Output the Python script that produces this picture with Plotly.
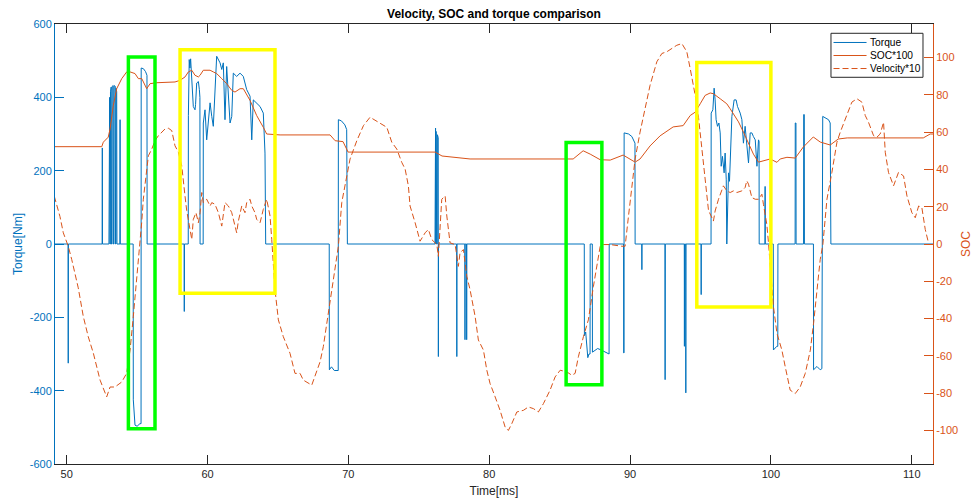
import plotly.graph_objects as go

# ---------------- data ----------------
series_names = ["Torque", "SOC*100", "Velocity*10"]

torque_t = [49.17, 50.10, 50.11, 50.12, 52.52, 52.53, 52.54,
            53.00, 53.01, 53.05, 53.07, 53.10, 53.11, 53.16, 53.18, 53.22, 53.23, 53.30, 53.32,
            53.36, 53.37, 53.45, 53.47, 53.50, 53.51, 53.55, 53.57, 53.78, 53.79, 53.80,
            54.72, 54.73, 54.85, 55.00, 55.20, 55.28, 55.29, 55.45, 55.60, 55.70, 55.71,
            58.34, 58.35, 58.36,
            58.63, 58.64, 58.70, 58.75, 58.80, 58.85, 58.92, 58.99, 59.11, 59.15, 59.23, 59.35,
            59.42, 59.46, 59.47, 59.69, 59.70, 59.82, 59.94, 60.06, 60.18, 60.30, 60.41, 60.65,
            60.89, 61.01, 61.12, 61.24, 61.36, 61.60, 61.72, 61.83, 62.07, 62.31, 62.54, 62.78,
            63.02, 63.14, 63.25, 63.73, 63.96, 64.08, 64.13,
            68.64, 68.65, 68.80, 69.00, 69.28, 69.29, 69.50, 69.75, 69.88, 69.93,
            76.15, 76.16, 76.19, 76.20, 76.22, 76.23, 76.26, 76.27, 76.31, 76.32, 76.38, 76.39, 76.40,
            77.69, 77.70, 77.71, 78.27, 78.28, 78.29, 78.39, 78.40, 78.41,
            86.75, 86.76, 86.85, 86.90, 87.00, 87.08, 87.16, 87.17, 87.32, 87.33, 87.50, 87.70,
            88.00, 88.30, 88.51, 88.52,
            89.54, 89.55, 89.57, 89.58, 89.90, 90.13, 90.24, 90.35, 90.36,
            90.83, 90.84, 90.85, 92.48, 92.49, 92.50, 93.85, 93.86, 93.87, 93.95, 93.96, 93.97,
            95.04, 95.05, 95.06,
            95.75, 95.76, 95.88, 95.97, 96.04, 96.11, 96.21, 96.31, 96.40, 96.47, 96.56, 96.68,
            96.75, 96.83, 96.87, 96.92, 96.99, 97.06, 97.11, 97.23, 97.39, 97.53, 97.63, 97.82,
            97.94, 98.05, 98.17, 98.30, 98.41, 98.53, 98.65, 98.76, 98.89, 99.01, 99.12, 99.16, 99.17,
            99.58, 99.59, 99.60, 100.17, 100.18, 100.42, 100.49, 100.50,
            101.72, 101.73, 101.78, 101.79, 102.32, 102.33, 102.37, 102.38,
            103.02, 103.03, 103.27, 103.50, 103.62, 103.68, 104.09, 104.21, 104.26, 111.51]
torque_v = [0, 0, -325, 0, 0, 262, 0,
            0, 360, 400, 0, 0, 415, 428, 0, 0, 430, 432, 0,
            0, 432, 430, 0, 0, 425, 415, 0, 0, 339, 0,
            0, -425, -494, -497, -490, -490, 480, 478, 470, 460, 0,
            0, -184, 0,
            0, 350, 503, 480, 505, 470, 420, 375, 366, 380, 439, 443,
            421, 400, 0, 0, 330, 366, 284, 330, 385, 348, 321, 512,
            494, 476, 494, 339, 484, 330, 348, 466, 457, 466, 457, 421,
            403, 284, 393, 375, 357, 248, 0,
            0, -343, -335, -345, -345, 339, 336, 325, 312, 0,
            0, 316, 316, 0, 0, 307, 303, 0, 0, 298, 290, -307, 0,
            0, -307, 0, 0, -261, 0, 0, -261, 0,
            0, -250, -240, -260, -310, -300, -300, 0, 0, -295, -290, -285,
            -290, -295, -300, 0,
            0, -297, -297, 303, 300, 293, 284, 275, 0,
            0, -70, 0, 0, -370, 0, 0, -279, 0, 0, -406, 0,
            0, -138, 0,
            0, 357, 366, 425, 393, 339, 321, 330, 303, 212, 239, 194,
            248, 175, 0, 121, 194, 171, 239, 348, 393, 393, 375, 357,
            339, 275, 321, 266, 221, 303, 303, 293, 284, 212, 284, 280, 0,
            0, 157, 0, 0, -289, -279, -279, 0,
            0, 330, 330, 0, 0, 353, 353, 0,
            0, -343, -334, -343, -340, 348, 339, 330, 0, 0]

soc_t = [49.17, 52.49, 52.60, 52.95, 53.08, 53.31, 53.55, 53.91, 54.26, 54.50, 54.85, 55.09,
         55.33, 55.56, 55.68, 55.92, 56.39, 57.69, 58.05, 58.40, 58.64, 58.88, 59.11, 59.35,
         59.47, 59.70, 60.18, 60.41, 60.65, 61.01, 61.36, 61.72, 61.95, 62.31, 62.54, 63.02,
         63.49, 63.96, 64.20, 65.15, 68.70, 69.06, 69.62, 69.98, 76.16, 76.65, 78.43, 78.64,
         85.96, 86.67, 87.17, 87.88, 88.59, 89.51, 90.36, 90.71, 91.42, 92.13, 93.06, 93.77,
         94.27, 94.62, 94.98, 95.33, 95.69, 95.92, 96.40, 96.87, 97.11, 97.34, 97.70, 98.05,
         98.41, 98.76, 99.12, 99.47, 99.95, 100.43, 100.66, 101.14, 101.73, 102.30, 103.01,
         103.50, 104.21, 104.78, 105.42, 110.82, 111.31, 111.51]
soc_v = [52.2, 52.2, 54.6, 57.3, 61.7, 74.3, 83.3, 88.7, 92.3, 92.3, 91.4, 88.7,
         88.7, 85.1, 83.3, 86.0, 86.5, 86.9, 87.8, 89.6, 92.3, 93.2, 90.5, 89.6,
         90.5, 93.2, 93.2, 92.3, 91.4, 88.7, 86.0, 82.4, 81.5, 83.3, 83.3, 77.0,
         68.9, 62.6, 59.0, 58.5, 58.5, 55.4, 54.9, 49.3, 49.3, 47.2, 46.1, 45.6,
         45.6, 50.0, 48.2, 45.2, 45.0, 47.7, 43.9, 45.6, 52.6, 58.0, 62.8, 63.5,
         68.9, 70.7, 75.2, 79.7, 81.0, 80.6, 77.9, 75.2, 72.5, 70.0, 65.5, 60.0,
         53.5, 48.2, 43.9, 44.6, 45.6, 43.8, 45.6, 46.5, 46.1, 52.0, 57.4,
         54.7, 53.1, 56.3, 56.9, 56.9, 59.0, 59.0]

vel_t = [49.12, 49.52, 49.76, 50.00, 50.11, 50.36, 50.82, 51.18, 51.53, 51.89, 52.37, 52.84,
         53.08, 53.43, 53.91, 54.26, 54.50, 54.73, 54.97, 55.21, 55.28, 55.33, 55.44, 55.56,
         55.68, 55.80, 56.04, 56.15, 56.27, 56.51, 56.75, 56.98, 57.22, 57.46, 57.69, 57.93,
         58.17, 58.28, 58.40, 58.52, 58.76, 58.88, 58.99, 59.18, 59.35, 59.47, 59.59, 59.70,
         59.94, 60.18, 60.30, 60.53, 60.77, 60.89, 61.01, 61.24, 61.48, 61.72, 61.83, 62.07,
         62.19, 62.43, 62.66, 62.78, 63.02, 63.14, 63.37, 63.49, 63.73, 63.96, 64.20, 64.44,
         64.56, 64.67, 64.79, 65.03, 65.38, 65.86, 66.21, 66.57, 66.80, 67.40, 67.76, 67.99,
         68.22, 68.47, 68.82, 69.06, 69.29, 69.53, 69.89, 70.12, 70.60, 71.07, 71.54, 72.13,
         72.73, 73.08, 73.44, 73.79, 74.03, 74.26, 74.38, 74.74, 75.09, 75.45, 75.68, 75.92,
         76.28, 76.39, 76.63, 76.87, 76.99, 77.22, 77.58, 77.81, 77.93, 78.17, 78.41, 78.64,
         79.00, 79.23, 79.47, 79.59, 79.83, 80.06, 80.42, 80.77, 81.13, 81.36, 81.60, 81.96,
         82.43, 82.78, 83.14, 83.49, 83.85, 84.32, 84.68, 85.04, 85.51, 85.87, 86.10, 86.33,
         86.69, 87.04, 87.40, 87.64, 87.88, 88.11, 88.59, 89.42, 89.65, 89.89, 90.13, 90.36,
         90.71, 91.07, 91.42, 91.90, 92.26, 92.61, 92.97, 93.32, 93.68, 94.03, 94.27, 94.62,
         94.86, 95.10, 95.33, 95.57, 95.92, 96.04, 96.28, 96.52, 96.63, 96.87, 97.11, 97.34,
         97.58, 97.94, 98.17, 98.29, 98.41, 98.65, 98.89, 99.12, 99.36, 99.47, 99.59, 99.71,
         99.83, 99.95, 100.18, 100.43, 100.78, 101.02, 101.37, 101.73, 102.08, 102.44, 102.80,
         103.03, 103.27, 103.50, 103.69, 103.98, 104.33, 104.69, 104.92, 105.28, 105.75, 106.11,
         106.46, 106.70, 106.93, 107.29, 107.53, 107.76, 108.00, 108.12, 108.35, 108.71, 109.06,
         109.42, 109.66, 110.01, 110.25, 110.49, 110.72, 110.96, 111.19]
vel_v = [25.6, 14.8, 6.0, 0.8, -1.2, -8.4, -23.5, -38.9, -49.7, -58.5, -73.0, -82.0,
         -76.7, -76.7, -74.0, -69.3, -56.9, -38.9, -19.1, -1.2, 5.0, 12.0, 24.0, 32.0,
         40.0, 47.3, 50.9, 53.6, 55.4, 58.1, 59.9, 61.7, 62.1, 60.8, 52.7, 49.2,
         41.9, 33.0, 25.8, 18.0, 7.8, 2.4, 13.2, 16.8, 11.4, 16.8, 27.6, 22.2,
         24.0, 20.4, 22.2, 21.3, 16.8, 13.2, 9.6, 22.2, 20.4, 16.8, 13.2, 6.0,
         12.3, 20.4, 16.8, 22.2, 24.0, 20.4, 16.8, 13.2, 11.4, 18.6, 24.0, 15.0,
         2.4, -8.4, -24.5, -40.7, -49.7, -58.7, -69.4, -69.4, -73.0, -75.7, -67.7, -63.2,
         -55.1, -42.5, -24.5, -12.0, -1.2, 22.2, 36.5, 45.6, 55.4, 63.5, 68.0, 65.3,
         62.6, 54.6, 50.9, 43.8, 40.2, 31.2, 20.4, 11.4, 1.5, 6.0, 7.8, 2.4,
         -0.3, -6.6, 24.0, 25.8, 15.0, 0.6, -0.3, -12.0, -4.6, -3.0, -17.4, -24.5,
         -38.9, -51.5, -55.1, -56.9, -67.7, -74.8, -82.0, -89.2, -98.2, -100.0, -96.4, -90.1,
         -89.2, -87.4, -88.3, -90.1, -85.6, -78.4, -71.3, -67.7, -68.6, -70.4, -69.4, -60.5,
         -49.7, -40.7, -22.7, -12.0, -1.2, -0.3, -0.3, -1.2, -1.2, 15.0, 31.2, 45.6,
         60.0, 72.5, 85.1, 97.7, 102.2, 103.1, 104.9, 106.6, 107.5, 103.1, 94.1, 80.0,
         68.0, 50.0, 33.0, 18.0, 12.3, 17.7, 24.0, 28.5, 31.2, 28.5, 27.6, 28.5,
         27.6, 28.5, 30.3, 33.9, 32.1, 24.9, 24.0, 24.0, 26.7, 21.3, 15.9, 10.5,
         0.6, -10.1, -33.5, -47.9, -56.9, -65.9, -78.4, -80.2, -76.7, -69.4, -56.9,
         -42.5, -24.5, -8.4, -0.3, 24.0, 38.4, 54.6, 59.9, 67.1, 76.1, 77.9,
         76.1, 68.9, 65.3, 58.1, 57.3, 59.0, 65.3, 49.2, 38.4, 31.2, 38.4,
         36.5, 25.8, 16.8, 14.1, 20.4, 19.5, 7.8, 0.6]

# axis ticks
x_ticks = [50, 60, 70, 80, 90, 100, 110]
x_labels = ["50", "60", "70", "80", "90", "100", "110"]
left_ticks = [-600, -400, -200, 0, 200, 400, 600]
left_labels = ["-600", "-400", "-200", "0", "200", "400", "600"]
right_ticks = [-100, -80, -60, -40, -20, 0, 20, 40, 60, 80, 100]
right_labels = ["-100", "-80", "-60", "-40", "-20", "0", "20", "40", "60", "80", "100"]

# highlight boxes (time range, torque range, colour)
boxes = [
    (54.38, 56.27, -504, 510, "#00FF00"),
    (58.05, 64.79, -134, 530, "#FFFF00"),
    (85.46, 88.00, -384, 277, "#00FF00"),
    (94.74, 100.00, -172, 495, "#FFFF00"),
]

BLUE = "#0072BD"
RED = "#D95319"
DARK = "#262626"
FONT = "Liberation Sans, Arial, Helvetica, sans-serif"
DASH = "6px,3px"

styles = [dict(color=BLUE, width=1),
          dict(color=RED, width=1),
          dict(color=RED, width=1, dash=DASH)]

fig = go.Figure()
fig.add_trace(go.Scatter(x=torque_t, y=torque_v, name=series_names[0], mode="lines",
                         line=styles[0], yaxis="y", showlegend=False))
fig.add_trace(go.Scatter(x=soc_t, y=soc_v, name=series_names[1], mode="lines",
                         line=styles[1], yaxis="y2", showlegend=False))
fig.add_trace(go.Scatter(x=vel_t, y=vel_v, name=series_names[2], mode="lines",
                         line=styles[2], yaxis="y2", showlegend=False))

for x0, x1, y0, y1, c in boxes:
    fig.add_shape(type="rect", xref="x", yref="y", x0=x0, x1=x1, y0=y0, y1=y1,
                  line=dict(color=c, width=3.5), fillcolor="rgba(0,0,0,0)", layer="above")

# compact MATLAB-style legend box (paper coordinates)
fig.add_shape(type="rect", xref="paper", yref="paper", x0=0.8838, x1=0.9886,
              y0=0.8789, y1=0.9789, line=dict(color=DARK, width=1), fillcolor="white",
              layer="above")
rows = [0.9580, 0.9284, 0.8988]
for name, st, yr in zip(series_names, styles, rows):
    fig.add_shape(type="line", xref="paper", yref="paper", x0=0.8867, x1=0.9243,
                  y0=yr, y1=yr, line=st, layer="above")
    fig.add_annotation(text=name, xref="paper", yref="paper", x=0.9262, y=yr,
                       xanchor="left", yanchor="middle", showarrow=False,
                       font=dict(size=10.2, color="#000000", family=FONT))

fig.update_layout(
    width=974, height=501,
    margin=dict(l=55, r=41, t=24, b=37, autoexpand=False),
    paper_bgcolor="white", plot_bgcolor="white",
    font=dict(family=FONT, size=11, color=DARK),
    title=dict(text="<b>Velocity, SOC and torque comparison</b>", x=0.5, xref="paper",
               xanchor="center", y=1 - 14 / 501, yref="container", yanchor="middle",
               font=dict(size=12, color="#000000", family=FONT)),
    showlegend=False,
    xaxis=dict(range=[49.17, 111.51], tickvals=x_ticks, ticktext=x_labels,
               ticks="inside", ticklen=9, tickcolor=DARK, tickwidth=1,
               showline=True, linecolor=DARK, linewidth=1, mirror="ticks",
               showgrid=False, zeroline=False,
               tickfont=dict(size=11, color=DARK),
               title=dict(text="Time[ms]", font=dict(size=12, color=DARK), standoff=7)),
    yaxis=dict(range=[-600, 600], tickvals=left_ticks, ticktext=left_labels,
               ticks="inside", ticklen=9, tickcolor=BLUE, tickwidth=1,
               showline=True, linecolor=BLUE, linewidth=1,
               showgrid=False, zeroline=False,
               tickfont=dict(size=11, color=BLUE),
               title=dict(text="Torque[Nm]", font=dict(size=12, color=BLUE), standoff=4)),
    yaxis2=dict(range=[-118, 118], overlaying="y", side="right",
                tickvals=right_ticks, ticktext=right_labels,
                ticks="inside", ticklen=9, tickcolor=RED, tickwidth=1,
                showline=True, linecolor=RED, linewidth=1,
                showgrid=False, zeroline=False,
                tickfont=dict(size=11, color=RED),
                title=dict(text="SOC", font=dict(size=12, color=RED), standoff=4)),
)

fig.write_html("out.html", config={"displayModeBar": False},
               post_script="document.body.style.margin='0px';document.body.style.overflow='hidden';")
